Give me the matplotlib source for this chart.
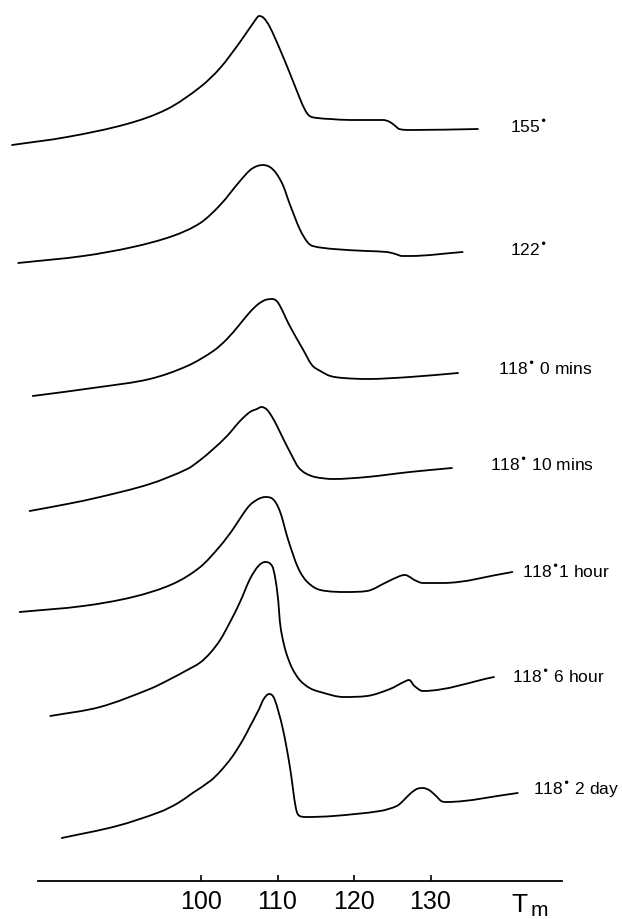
import matplotlib
matplotlib.use("Agg")
import matplotlib.pyplot as plt
from matplotlib.path import Path
from matplotlib.patches import PathPatch

# DSC melting traces, stacked (temperature in deg C, signal in arbitrary units)
labels = ["155$^{\u2022}$", "122$^{\u2022}$", "118$^{\u2022}$ 0 mins", "118$^{\u2022}$ 10 mins",
          "118$^{\u2022}$1 hour", "118$^{\u2022}$ 6 hour", "118$^{\u2022}$ 2 day"]
offsets = [736, 618, 485, 370, 269, 165, 43]

t155 = [75.3, 82.5, 90.3, 95.6, 99.9, 102.5, 105.1, 107.1, 107.6, 108.2, 109.0, 110.3, 111.6,
        112.9, 113.6, 114.2, 115.2, 116.9, 119.5, 123.8, 124.7, 125.4, 125.9, 127.3, 136.2]
s155 = [0, 8, 21, 36, 58, 77, 103, 125, 129, 127, 118, 96, 72,
        47, 35, 29, 27, 26, 25, 25, 23, 19, 16, 15, 16]

t122 = [76.1, 84.6, 91.1, 96.3, 99.9, 102.5, 105.1, 106.6, 108.1, 109.0, 109.8, 110.7, 111.6,
        112.9, 113.9, 114.6, 117.3, 121.7, 124.3, 125.4, 126.3, 127.3, 134.2]
s122 = [0, 7, 16, 27, 40, 58, 82, 94, 98, 96, 90, 78, 59,
        34, 21, 17, 14, 12, 11, 9, 7, 7, 11]

t0m = [78.0, 86.8, 93.3, 98.2, 101.6, 103.4, 105.1, 106.4, 107.5, 108.4, 109.3, 110.1, 111.6,
       113.3, 114.5, 115.6, 116.9, 118.6, 121.7, 127.3, 133.6]
s0m = [0, 9, 17, 30, 45, 57, 72, 84, 92, 96, 97, 93, 70,
       47, 31, 25, 20, 18, 17, 19, 23]

t10m = [77.6, 82.5, 86.8, 93.3, 98.2, 99.9, 101.6, 103.4, 105.1, 106.4, 107.3, 107.9, 108.6,
        109.3, 110.0, 110.7, 111.9, 112.7, 113.6, 114.9, 117.3, 121.7, 127.3, 132.8]
s10m = [0, 7, 14, 27, 42, 51, 62, 75, 90, 99, 102, 104, 101.5,
        94, 84, 73, 55, 44, 38, 34, 32, 34, 39, 43]

t1h = [76.3, 84.6, 91.1, 96.3, 99.9, 102.5, 104.2, 105.4, 106.4, 107.5, 108.4, 109.3, 110.3,
       111.4, 112.7, 113.9, 115.6, 119.1, 121.7, 124.3, 126.0, 126.7, 127.3, 127.9, 129.0, 131.6,
       140.7]
s1h = [0, 6, 15, 28, 45, 66, 83, 97, 107, 113, 115, 113.5, 101,
       72, 44, 30, 22, 20, 21, 30, 36, 37, 35, 32, 29, 29,
       40]

t6h = [80.3, 86.8, 93.3, 96.0, 98.2, 99.9, 101.2, 102.5, 103.8, 105.1, 106.4, 107.5, 108.4,
       109.3, 109.7, 110.1, 110.3, 110.6, 111.1, 111.9, 112.9, 114.2, 115.6, 118.6, 121.7, 124.7,
       126.5, 127.2, 127.9, 129.0, 138.3]
s6h = [0, 9, 27, 37, 46, 53.5, 63, 76, 94, 114, 137, 150, 154,
       150, 138, 115, 95, 80, 64, 48, 36, 28, 24, 19, 20, 27,
       34, 36, 30, 25, 39]

t2d = [81.8, 89.0, 94.6, 97.0, 98.9, 101.2, 102.5, 104.1, 105.5, 106.4, 107.5, 108.2, 108.9,
       109.6, 110.7, 111.6, 112.4, 112.9, 113.7, 117.3, 123.4, 125.6, 126.4, 127.3, 128.2, 129.0,
       129.8, 130.6, 131.4, 132.0, 141.4]
s2d = [0, 12, 26, 35, 45, 57, 66.5, 81.5, 98.5, 111.5, 127.5, 139, 144,
       139, 109, 72, 30, 22, 21, 22, 27, 32, 37, 44, 49, 50,
       48, 43, 37, 36, 45]

curves = [(t155, s155), (t122, s122), (t0m, s0m), (t10m, s10m), (t1h, s1h), (t6h, s6h), (t2d, s2d)]

# where each label sits: temperature of its left edge, height above the trace offset
label_t = [140.4, 140.4, 138.8, 137.8, 142.0, 140.7, 143.4]
label_dy = [19, 14, 28, 47, 41, 40, 49]

xticks = [100, 110, 120, 130]


def smooth_path(x, y):
    # Bezier segments through the read points, tangents from central differences
    n = len(x)
    h = [x[i + 1] - x[i] for i in range(n - 1)]
    d = [(y[i + 1] - y[i]) / h[i] for i in range(n - 1)]
    m = [d[0]] + [0.0] * (n - 2) + [d[-1]]
    for k in range(1, n - 1):
        if d[k - 1] * d[k] > 0:
            mk = (y[k + 1] - y[k - 1]) / (x[k + 1] - x[k - 1])
            lim = 3 * min(abs(d[k - 1]), abs(d[k]))
            m[k] = max(-lim, min(lim, mk))
    verts = [(x[0], y[0])]
    codes = [Path.MOVETO]
    for i in range(n - 1):
        verts += [(x[i] + h[i] / 3, y[i] + m[i] * h[i] / 3),
                  (x[i + 1] - h[i] / 3, y[i + 1] - m[i + 1] * h[i] / 3),
                  (x[i + 1], y[i + 1])]
        codes += [Path.CURVE4] * 3
    return Path(verts, codes)


plt.rcParams['font.family'] = ['Liberation Sans', 'DejaVu Sans']
plt.rcParams['mathtext.fontset'] = 'dejavusans'

fig = plt.figure(figsize=(6.22, 9.20), dpi=100)
ax = fig.add_axes([38 / 622, 38 / 920, 524 / 622, 882 / 920])

for (t, s), off, lab, lt, ldy in zip(curves, offsets, labels, label_t, label_dy):
    p = smooth_path(t, [v + off for v in s])
    ax.add_patch(PathPatch(p, fill=False, edgecolor='black', lw=1.3, clip_on=False,
                           joinstyle='round', capstyle='round'))
    ax.text(lt, off + ldy, lab, fontsize=12.5, va='center', ha='left', clip_on=False)

ax.set_xlim(78.69, 147.19)
ax.set_ylim(0, 882)
for side in ['top', 'right', 'left']:
    ax.spines[side].set_visible(False)
ax.spines['bottom'].set_linewidth(1.3)
ax.set_yticks([])
ax.set_xticks(xticks)
ax.tick_params(axis='x', direction='in', length=4, width=1.2, labelsize=18, pad=6)
ax.text(141.6, -30, "T", fontsize=19, ha='center', va='baseline', clip_on=False)
ax.text(144.2, -34, "m", fontsize=15, ha='center', va='baseline', clip_on=False)

fig.savefig("out.png", dpi=100)
